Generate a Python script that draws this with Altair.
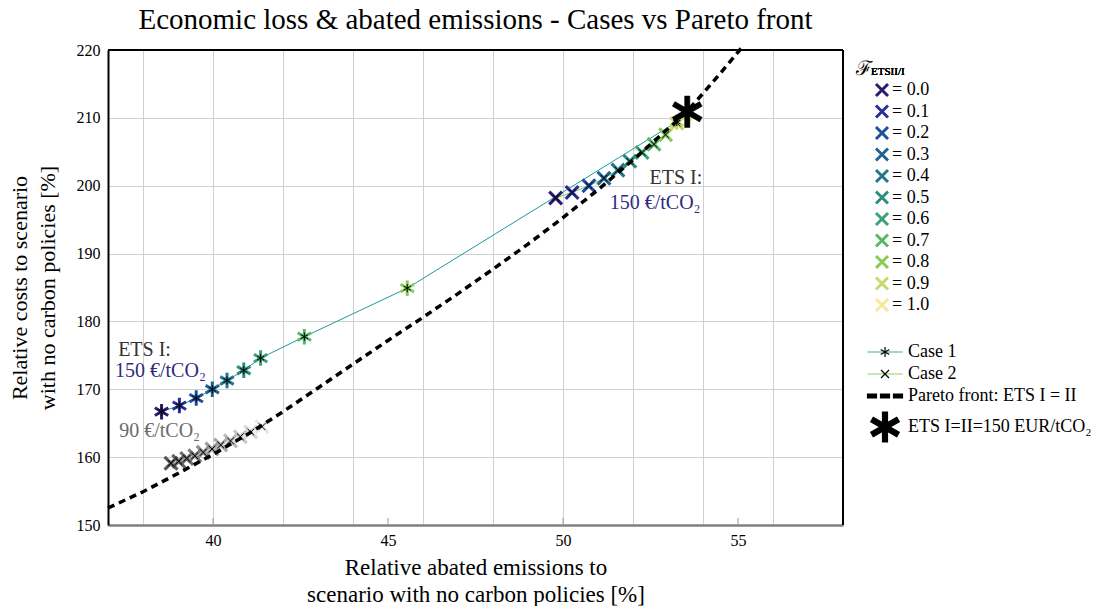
import math
import altair as alt
import pandas as pd

SERIF = "Liberation Serif"

# ---------------- data ----------------
F_LEVELS = ["0.0", "0.1", "0.2", "0.3", "0.4", "0.5", "0.6", "0.7", "0.8", "0.9", "1.0"]
F_COLORS = ["#2b1d6b", "#2a2f96", "#1d4f9b", "#1f6392", "#22788a", "#2a8d80",
            "#3aa277", "#58b86b", "#86ca58", "#c4da69", "#f7e89c"]

case1_x = [38.53, 39.04, 39.52, 39.98, 40.40, 40.88, 41.36, 42.61, 45.55, 53.25, 53.50]
case1_y = [166.7, 167.6, 168.7, 170.0, 171.3, 172.8, 174.6, 177.75, 184.9, 209.4, 210.5]

case2_x = [49.79, 50.26, 50.74, 51.17, 51.57, 51.91, 52.26, 52.60, 52.93, 53.26, 53.50]
case2_y = [198.2, 199.0, 200.0, 201.1, 202.3, 203.6, 204.9, 206.1, 207.5, 209.2, 210.6]

low_x = [38.80, 39.02, 39.25, 39.48, 39.72, 39.97, 40.22, 40.50, 40.78, 41.08, 41.40]
low_y = [159.1, 159.4, 159.8, 160.2, 160.7, 161.2, 161.8, 162.4, 163.0, 163.7, 164.5]
low_grey = ["#3b3b3b", "#484848", "#575757", "#676767", "#787878", "#8a8a8a",
            "#9c9c9c", "#aeaeae", "#c0c0c0", "#d2d2d2", "#e3e3e3"]

pareto_x = [37, 38, 39, 40, 41, 42, 43, 44, 45, 46, 47, 48, 49, 50, 51, 52, 53, 53.5, 54, 54.5, 55, 55.1]
pareto_y = [152.5, 154.9, 157.6, 160.4, 163.4, 166.7, 170.2, 173.7, 177.2, 180.6, 184.1, 187.7,
            191.4, 195.3, 199.4, 203.8, 208.4, 210.7, 213.6, 216.6, 219.7, 220.3]

star_x = [53.55]
star_y = [210.9]

SERIES = ["Case 1", "Case 2", "Pareto front: ETS I = II", "ETS I=II=150 EUR/tCO\u2082"]
MARKER_KEYS = ["m1", "m2", "m3", "m4"]   # marker overlay keys, one per series

annot_text = ["ETS I:", "150 \u20ac/tCO\u2082", "90 \u20ac/tCO\u2082", "ETS I:", "150 \u20ac/tCO\u2082"]
annot_x = [37.29, 37.20, 37.32, 53.98, 53.93]
annot_y = [175.8, 172.7, 163.9, 201.1, 197.5]
annot_side = ["left", "left", "left", "right", "right"]
annot_color = ["#333333", "#2f2b7f", "#6b6b6b", "#333333", "#2f2b7f"]

x_values = [38, 40, 42, 44, 45, 46, 48, 50, 52, 54, 55, 56]
y_values = [150, 160, 170, 180, 190, 200, 210, 220]
tick_marks = [40, 45, 50, 55]

# ---------------- shapes ----------------
AST = "M0,-1L0,1M-0.866,-0.5L0.866,0.5M-0.866,0.5L0.866,-0.5"
CROSS = "M-0.8,-0.8L0.8,0.8M-0.8,0.8L0.8,-0.8"


def thick_asterisk(L, w):
    parts = []
    for ang in (90, 30, -30):
        t = math.radians(ang)
        dx, dy = math.cos(t), math.sin(t)
        nx, ny = -dy, dx
        pts = [(dx * L + nx * w, dy * L + ny * w), (dx * L - nx * w, dy * L - ny * w),
               (-dx * L - nx * w, -dy * L - ny * w), (-dx * L + nx * w, -dy * L + ny * w)]
        parts.append("M" + "L".join(f"{a:.3f},{b:.3f}" for a, b in pts) + "Z")
    return "".join(parts)


def dash_bar(segs, h):
    return "".join(f"M{a},{-h}L{b},{-h}L{b},{h}L{a},{h}Z" for a, b in segs)


BIG = thick_asterisk(3.0, 0.5)
DASHBAR = dash_bar([(-3.5, -1.7), (-0.9, 0.9), (1.7, 3.5)], 0.38)
LINE_SYM = "M-3.5,0L3.5,0"

# ---------------- frames ----------------
df_lines = pd.concat([
    pd.DataFrame({"x": case1_x, "y": case1_y, "series": SERIES[0]}),
    pd.DataFrame({"x": case2_x, "y": case2_y, "series": SERIES[1]}),
], ignore_index=True)
df_pareto = pd.DataFrame({"x": pareto_x, "y": pareto_y})

df_c1 = pd.DataFrame({"x": case1_x, "y": case1_y, "F": F_LEVELS, "mk": MARKER_KEYS[0]})
df_c2 = pd.DataFrame({"x": case2_x, "y": case2_y, "F": F_LEVELS, "mk": MARKER_KEYS[1]})
df_low = pd.DataFrame({"x": low_x, "y": low_y, "grey": low_grey, "mk": MARKER_KEYS[1]})
df_small = pd.concat([df_c1[["x", "y", "mk"]], df_c2[["x", "y", "mk"]],
                      df_low[["x", "y", "mk"]]], ignore_index=True)
df_star = pd.DataFrame({"x": star_x, "y": star_y, "mk": MARKER_KEYS[3]})
df_annot = pd.DataFrame({"x": annot_x, "y": annot_y, "t": annot_text,
                         "side": annot_side, "c": annot_color})
df_ticks = pd.DataFrame({"x": tick_marks})

W, H = 735, 475

x_axis = alt.Axis(
    values=x_values,
    labelExpr="datum.value % 5 === 0 ? datum.label : ''",
    gridOpacity={"condition": {"test": "datum.value % 2 === 0", "value": 1}, "value": 0},
    gridColor="#d0d0d0", gridWidth=1, tickSize=0,
    domainColor="#808080", domainWidth=2.5,
    labelFont=SERIF, labelFontSize=16, labelColor="black", labelPadding=7,
    title=["Relative abated emissions to", "scenario with no carbon policies [%]"],
    titleFont=SERIF, titleFontSize=23, titleFontWeight="normal", titleColor="black",
    titlePadding=8, titleLineHeight=27,
)
y_axis = alt.Axis(
    values=y_values,
    gridColor="#d0d0d0", gridWidth=1, tickSize=0,
    domainColor="black", domainWidth=2,
    labelFont=SERIF, labelFontSize=16, labelColor="black", labelPadding=8,
    title=["Relative costs to scenario", "with no carbon policies [%]"],
    titleFont=SERIF, titleFontSize=22, titleFontWeight="normal", titleColor="black",
    titlePadding=17, titleLineHeight=28,
)


def X(field="x"):
    return alt.X(f"{field}:Q", scale=alt.Scale(domain=[37, 58], nice=False, zero=False), axis=x_axis)


def Y(field="y"):
    return alt.Y(f"{field}:Q", scale=alt.Scale(domain=[150, 220], nice=False, zero=False), axis=y_axis)


LEG_X = 768
LEG_Y = 293

leg_b = alt.Legend(orient="none", legendX=LEG_X, legendY=LEG_Y, title=None, padding=0,
                   symbolType=LINE_SYM, symbolSize=100, symbolStrokeWidth=1.2,
                   labelExpr=f"datum.value === '{SERIES[3]}' ? '' : datum.label",
                   labelFont=SERIF, labelFontSize=18,
                   labelColor="black", labelOffset=14, rowPadding=4, labelLimit=400)
leg_c = alt.Legend(orient="none", legendX=LEG_X, legendY=LEG_Y, title=None, padding=0,
                   symbolSize=100, symbolStrokeWidth=1.2, labelFont=SERIF, labelFontSize=18,
                   labelColor="black",
                   labelExpr=f"datum.value === '{MARKER_KEYS[3]}' ? '{SERIES[3]}' : ''",
                   labelOffset=14, rowPadding=4, labelLimit=400)
leg_a = alt.Legend(orient="none", legendX=748, legendY=9, title="\u2131", padding=0,
                   titleFont=SERIF, titleFontSize=20, titleFontWeight="normal", titleColor="black",
                   titlePadding=2,
                   symbolType=CROSS, symbolSize=225, symbolStrokeWidth=3, symbolOffset=17,
                   labelExpr="'= ' + datum.label", labelFont=SERIF, labelFontSize=18,
                   labelColor="black", labelOffset=1, rowPadding=-2.5)

stroke_s = alt.Stroke("series:N", scale=alt.Scale(
    domain=SERIES, range=["#1c9a9c", "#7cc94e", "rgba(0,0,0,0)", "rgba(0,0,0,0)"]), legend=leg_b)
color_f = alt.Color("F:N", scale=alt.Scale(domain=F_LEVELS, range=F_COLORS), legend=leg_a)
shape_s = alt.Shape("mk:N", scale=alt.Scale(domain=MARKER_KEYS, range=[AST, CROSS, DASHBAR, BIG]), legend=leg_c)

ticks = alt.Chart(df_ticks).mark_rule(color="#9a9a9a", strokeWidth=1).encode(
    x=X(), y=alt.value(H), y2=alt.value(H - 7))

case_lines = alt.Chart(df_lines).mark_line(strokeWidth=1).encode(x=X(), y=Y(), stroke=stroke_s)

pareto = alt.Chart(df_pareto).mark_line(
    strokeCap="butt", color="black", strokeWidth=3.5, strokeDash=[7, 5]).encode(x=X(), y=Y())

low_pts = alt.Chart(df_low).mark_point(shape=CROSS, filled=False, size=256, strokeWidth=3.2, opacity=0.85).encode(
    x=X(), y=Y(), stroke=alt.Stroke("grey:N", scale=None))

c1_pts = alt.Chart(df_c1).mark_point(shape=AST, filled=False, size=240, strokeWidth=3, opacity=1).encode(
    x=X(), y=Y(), color=color_f)

c2_pts = alt.Chart(df_c2).mark_point(shape=CROSS, filled=False, size=256, strokeWidth=3.2, opacity=1).encode(
    x=X(), y=Y(), color=color_f)

small = alt.Chart(df_small).mark_point(filled=True, size=70, strokeWidth=1, opacity=1,
                                        color="black", fill="black", stroke="black").encode(
    x=X(), y=Y(), shape=shape_s)

big = alt.Chart(df_star).mark_point(filled=True, size=110, opacity=1, color="black",
                                    fill="black", stroke="black", strokeWidth=0.5).encode(
    x=X(), y=Y(), shape=shape_s)

annot_l = alt.Chart(df_annot).transform_filter(alt.datum.side == "left").mark_text(
    align="left", baseline="middle", font=SERIF, fontSize=20).encode(
    x=X(), y=Y(), text="t:N", color=alt.Color("c:N", scale=None))
annot_r = alt.Chart(df_annot).transform_filter(alt.datum.side == "right").mark_text(
    align="right", baseline="middle", font=SERIF, fontSize=20).encode(
    x=X(), y=Y(), text="t:N", color=alt.Color("c:N", scale=None))

frame_top = alt.Chart(df_ticks).mark_rule(color="black", strokeWidth=2).encode(
    x=alt.value(0), x2=alt.value(W), y=alt.value(0))
frame_right = alt.Chart(df_ticks).mark_rule(color="black", strokeWidth=2).encode(
    x=alt.value(W), y=alt.value(0), y2=alt.value(H))

sub_title = alt.Chart(df_ticks).mark_text(
    align="left", baseline="middle", font=SERIF, fontSize=11, color="black", text="ETSII/I").encode(
    x=alt.value(763), y=alt.value(22))

chart = alt.layer(
    ticks, case_lines, low_pts, c1_pts, c2_pts, small, pareto, big, annot_l, annot_r,
    frame_top, frame_right, sub_title
).properties(
    width=W, height=H,
    title=alt.TitleParams(
        text="Economic loss & abated emissions - Cases vs Pareto front",
        font=SERIF, fontSize=29, fontWeight="normal", color="black", anchor="middle", offset=6),
    autosize=alt.AutoSizeParams(type="none"),
    padding={"left": 108, "top": 50, "right": 270, "bottom": 81},
).configure_view(stroke="transparent")

chart.save("out.html", embed_options={"renderer": "svg", "actions": False})
